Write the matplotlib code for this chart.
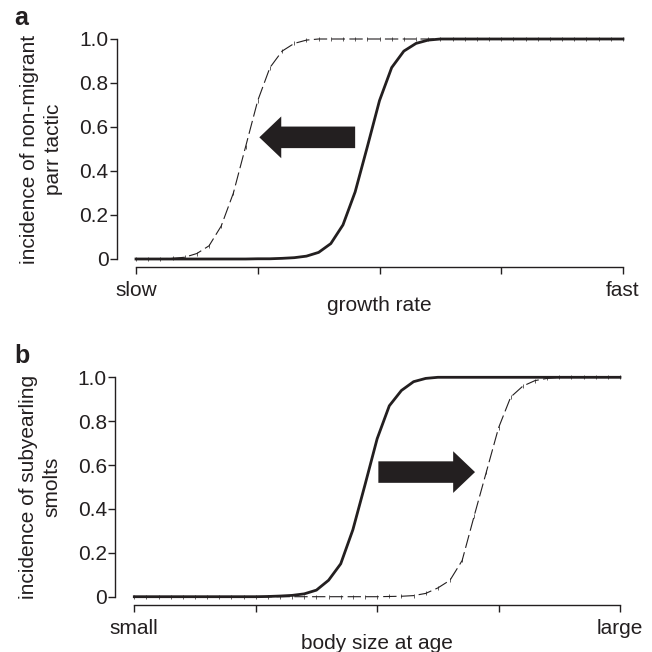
import numpy as np
import matplotlib
matplotlib.use('Agg')
import matplotlib.pyplot as plt
from matplotlib.patches import FancyArrow

plt.rcParams['font.family'] = ['Liberation Sans', 'DejaVu Sans']
ink = '#231f20'

# x positions (arbitrary units, 0..40)
x = list(range(41))

# panel a: non-migrant parr tactic vs growth rate
a_before = [0, 0, 0, 0, 0, 0, 0, 0, 0, 0, 0.001, 0.001, 0.003, 0.006, 0.013, 0.03, 0.07, 0.155, 0.305,
            0.51, 0.72, 0.87, 0.945, 0.98, 0.995, 1, 1, 1, 1, 1, 1, 1, 1, 1, 1, 1, 1, 1, 1, 1, 1]
a_after = [0, 0, 0.001, 0.003, 0.008, 0.025, 0.06, 0.15, 0.30, 0.51, 0.72, 0.87, 0.945, 0.98, 0.995,
           1, 1, 1, 1, 1, 1, 1, 1, 1, 1, 1, 1, 1, 1, 1, 1, 1, 1, 1, 1, 1, 1, 1, 1, 1, 1]

# panel b: subyearling smolts vs body size
b_before = [0, 0, 0, 0, 0, 0, 0, 0, 0, 0, 0, 0.001, 0.003, 0.006, 0.013, 0.03, 0.075, 0.15, 0.305,
            0.51, 0.72, 0.87, 0.94, 0.98, 0.995, 1, 1, 1, 1, 1, 1, 1, 1, 1, 1, 1, 1, 1, 1, 1, 1]
b_after = [0, 0, 0, 0, 0, 0, 0, 0, 0, 0, 0, 0, 0, 0, 0, 0, 0, 0, 0, 0, 0, 0.001, 0.002, 0.005, 0.015,
           0.04, 0.075, 0.165, 0.37, 0.57, 0.77, 0.91, 0.96, 0.985, 0.995, 1, 1, 1, 1, 1, 1]

y_ticks = [0, 0.2, 0.4, 0.6, 0.8, 1.0]
y_ticklabels = ['0', '0.2', '0.4', '0.6', '0.8', '1.0']

panels = [
    dict(tag='a', solid=a_before, dashed=a_after, ylabel='incidence of non-migrant\nparr tactic',
         xlabel='growth rate', ends=['slow', 'fast'], arrow=(18.0, 10.13, 0.553)),
    dict(tag='b', solid=b_before, dashed=b_after, ylabel='incidence of subyearling\nsmolts',
         xlabel='body size at age', ends=['small', 'large'], arrow=(20.1, 28.06, 0.568)),
]

W = 652.0
boxes = [(136, 623, 39, 259), (134.3, 620, 377.3, 596.7)]

fig = plt.figure(figsize=(6.52, 6.52), dpi=100)

for p, (l, r, t, b) in zip(panels, boxes):
    ax = fig.add_axes([l / W, 1 - b / W, (r - l) / W, (b - t) / W])
    ax.plot(x, p['solid'], color=ink, lw=2.0, clip_on=False, zorder=3)
    ax.plot(x, p['dashed'], color=ink, lw=0.8, dashes=(12, 4), clip_on=False, zorder=3,
            marker='|', ms=3, mew=0.5)
    x0, x1, y0 = p['arrow']
    ax.add_patch(FancyArrow(x0, y0, x1 - x0, 0, width=0.098, head_width=0.19, head_length=1.8,
                            length_includes_head=True, color=ink, lw=0, zorder=4))

    ax.set_xlim(0, 40)
    ax.set_ylim(0, 1)
    for s in ['top', 'right']:
        ax.spines[s].set_visible(False)
    ax.spines['left'].set_position(('outward', 13.8))
    ax.spines['bottom'].set_position(('outward', 5.9))
    for s in ['left', 'bottom']:
        ax.spines[s].set_linewidth(1.0)
        ax.spines[s].set_color(ink)

    ax.set_yticks(y_ticks)
    ax.set_yticklabels(y_ticklabels)
    ax.set_xticks([0, 10, 20, 30, 40])
    ax.set_xticklabels([p['ends'][0], '', '', '', p['ends'][1]])
    ax.tick_params(axis='both', colors=ink, labelsize=15, width=1.0, length=5, direction='out')
    ax.tick_params(axis='y', pad=1)
    ax.tick_params(axis='x', pad=5)
    ax.set_xlabel(p['xlabel'], fontsize=15, color=ink, labelpad=-3)
    ax.set_ylabel(p['ylabel'], fontsize=15, color=ink, labelpad=12, linespacing=1.3)

    fig.text(14 / W, 1 - (t - 33) / W, p['tag'], fontsize=18, fontweight='bold', color=ink,
             va='top', ha='left')

fig.savefig('out.png', dpi=100)
